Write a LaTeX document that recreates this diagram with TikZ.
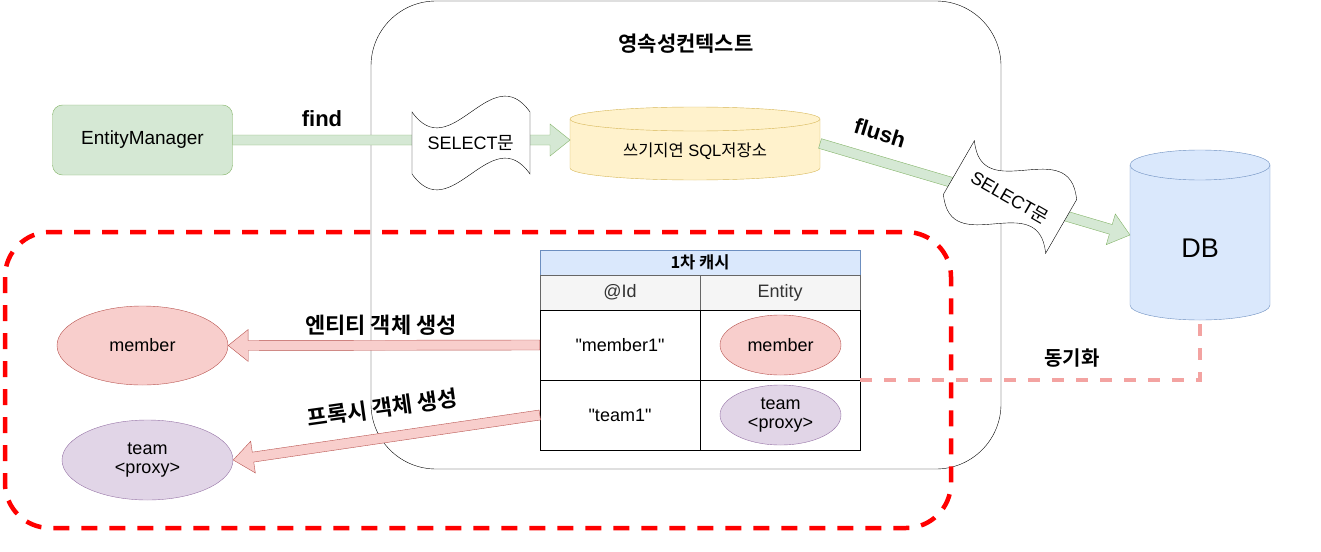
\documentclass[tikz,border=0pt]{standalone}
\usepackage{fontspec}
\setmainfont{Liberation Sans}[Ligatures=TeXOff]
\newfontfamily\kr{Noto Sans CJK KR}[BoldFont={Noto Sans CJK KR Bold}]
\usetikzlibrary{calc,shapes.geometric}
\definecolor{gfill}{HTML}{D5E8D4}\definecolor{gdraw}{HTML}{82B366}
\definecolor{yfill}{HTML}{FFF2CC}\definecolor{ydraw}{HTML}{D6B656}
\definecolor{bfill}{HTML}{DAE8FC}\definecolor{bdraw}{HTML}{6C8EBF}
\definecolor{rfill}{HTML}{F8CECC}\definecolor{rdraw}{HTML}{B85450}
\definecolor{pfill}{HTML}{E1D5E7}\definecolor{pdraw}{HTML}{9673A6}
\definecolor{hfill}{HTML}{F5F5F5}\definecolor{hdraw}{HTML}{666666}\definecolor{htext}{HTML}{333333}
\definecolor{syncc}{HTML}{F3A3A1}
\definecolor{redd}{HTML}{FF0000}
\newcommand\fs[2]{\fontsize{#1}{#2}\selectfont}
\newcommand\cylnode[8]{%
  \node[minimum width=2*#4, minimum height=2*#5, inner sep=0, outer sep=0] (#1) at (#2,#3) {};
  \draw[fill=#7, draw=#8] (#2-#4, #3-#5+#6) -- (#2-#4, #3+#5-#6)
     arc[start angle=180, end angle=360, x radius=#4pt, y radius=#6pt]
     -- (#2+#4, #3-#5+#6)
     arc[start angle=0, end angle=180, x radius=#4pt, y radius=#6pt] -- cycle;
  \draw[draw=#8] (#2-#4, #3-#5+#6) arc[start angle=180, end angle=360, x radius=#4pt, y radius=#6pt];
}
\newcommand\blockarrow[4]{%
  \path #3; \pgfgetlastxy{\bax}{\bay}%
  \path #4; \pgfgetlastxy{\bbx}{\bby}%
  \pgfmathsetmacro\baang{atan2(\bby-\bay,\bbx-\bax)}%
  \pgfmathsetmacro\balen{veclen(\bbx-\bax,\bby-\bay)}%
  \pgfmathsetmacro\bahd{\balen-20}%
  \begin{scope}[shift={(\bax,\bay)}, rotate=\baang]
    \draw[fill=#1, draw=#2, line join=miter] (0pt,-5pt) -- (\bahd pt,-5pt) -- (\bahd pt,-16pt)
      -- (\balen pt,0pt) -- (\bahd pt,16pt) -- (\bahd pt,5pt) -- (0pt,5pt) -- cycle;
  \end{scope}}
\tikzset{
  tapeshape/.pic={
    \draw[fill=white, draw=black] (-59,-31) .. controls (-20,24) and (20,-86) .. (59,-31)
      -- (59,31) .. controls (20,-24) and (-20,86) .. (-59,31) -- cycle;
    \node[font=\fs{18}{21}] (-txt) at (0,0) {SELECT{\kr 문}};
  },
  cell/.style={draw=black, fill=white, minimum width=160, minimum height=70, inner sep=0, font=\fs{18}{21}},
  ell/.style={ellipse, inner sep=0, align=center, font=\fs{18}{21}},
  blabel/.style={font=\bfseries\fs{22}{26}},
  klabel/.style={font=\kr\bfseries\fs{22}{26}},
}
\begin{document}
\begin{tikzpicture}[x=1pt, y=-1pt]
\useasboundingbox (0,0) rectangle (1321,551);
% persistence context
\draw[rounded corners=65] (371,1) rectangle (1001,469);
\node[font=\kr\bfseries\fs{21}{25}] (title) at (686,44) {영속성컨텍스트};
% entity manager
\node[draw=gdraw, fill=gfill, rounded corners=10, minimum width=180, minimum height=70, font=\fs{19}{22}] (em) at (142.5,140) {EntityManager};
% cylinders (shapes)
\cylnode{wbuf}{695}{143.5}{125}{36.5}{12}{yfill}{ydraw}
\node[font=\fs{16.5}{20}] (wbuft) at (695,151) {{\kr 쓰기지연} SQL{\kr 저장소}};
\cylnode{db}{1200}{235}{70}{85}{15}{bfill}{bdraw}
\node[font=\fs{27}{30}] (dbt) at (1200,248) {DB};
% table
\node[draw=bdraw, fill=bfill, minimum width=320, minimum height=25, inner sep=0, font=\kr\bfseries\fs{16.5}{19}] (hdr) at (700,262.5) {1차 캐시};
\node[cell, draw=hdraw, fill=hfill, text=htext, minimum height=35] (c1) at (620,292.5) {@Id};
\node[cell, draw=hdraw, fill=hfill, text=htext, minimum height=35] (c2) at (780,292.5) {Entity};
\node[cell] (id1) at (620,345) {"member1"};
\node[cell] (m1) at (780,345) {};
\node[cell] (id2) at (620,415) {"team1"};
\node[cell] (m2) at (780,415) {};
\node[ell, draw=rdraw, fill=rfill, minimum width=121, minimum height=60] (e1) at (780.5,345) {member};
\node[ell, draw=pdraw, fill=pfill, minimum width=121, minimum height=60] (e2) at (780.5,415) {team\\[-2pt]<proxy>};
% left ellipses
\node[ell, draw=rdraw, fill=rfill, minimum width=171, minimum height=79] (lmem) at (142.5,345.5) {member};
\node[ell, draw=pdraw, fill=pfill, minimum width=171, minimum height=80] (lteam) at (147.5,460) {team\\[-2pt]<proxy>};
% block arrows
\blockarrow{gfill}{gdraw}{(em.east)}{(em.east -| wbuf.west)}
\blockarrow{gfill}{gdraw}{(wbuf.east)}{(db.west)}
\blockarrow{rfill}{rdraw}{(id1.west)}{(lmem.east)}
\blockarrow{rfill}{rdraw}{(id2.west)}{(lteam.east)}
% tapes
\pic (t1) at (471,143) {tapeshape};
\pic[rotate=-30, transform shape] (t2) at (1010,197) {tapeshape};
% sync line
\draw[syncc, line width=4, dash pattern=on 12pt off 12pt] (m2.north east) -| (db.south);
% red dashed region
\draw[redd, line width=4.5, dash pattern=on 16pt off 12pt, rounded corners=45] (5,232) rectangle (951,528);
% labels
\node[blabel] (lfind) at (322,119) {find};
\node[blabel, rotate=-17] (lflush) at (880,133) {flush};
\node[klabel] (lent) at (381,325) {엔티티 객체 생성};
\node[klabel, rotate=8] (lprox) at (382,408) {프록시 객체 생성};
\node[font=\kr\bfseries\fs{20}{24}] (lsync) at (1072,358) {동기화};
\end{tikzpicture}
\end{document}
